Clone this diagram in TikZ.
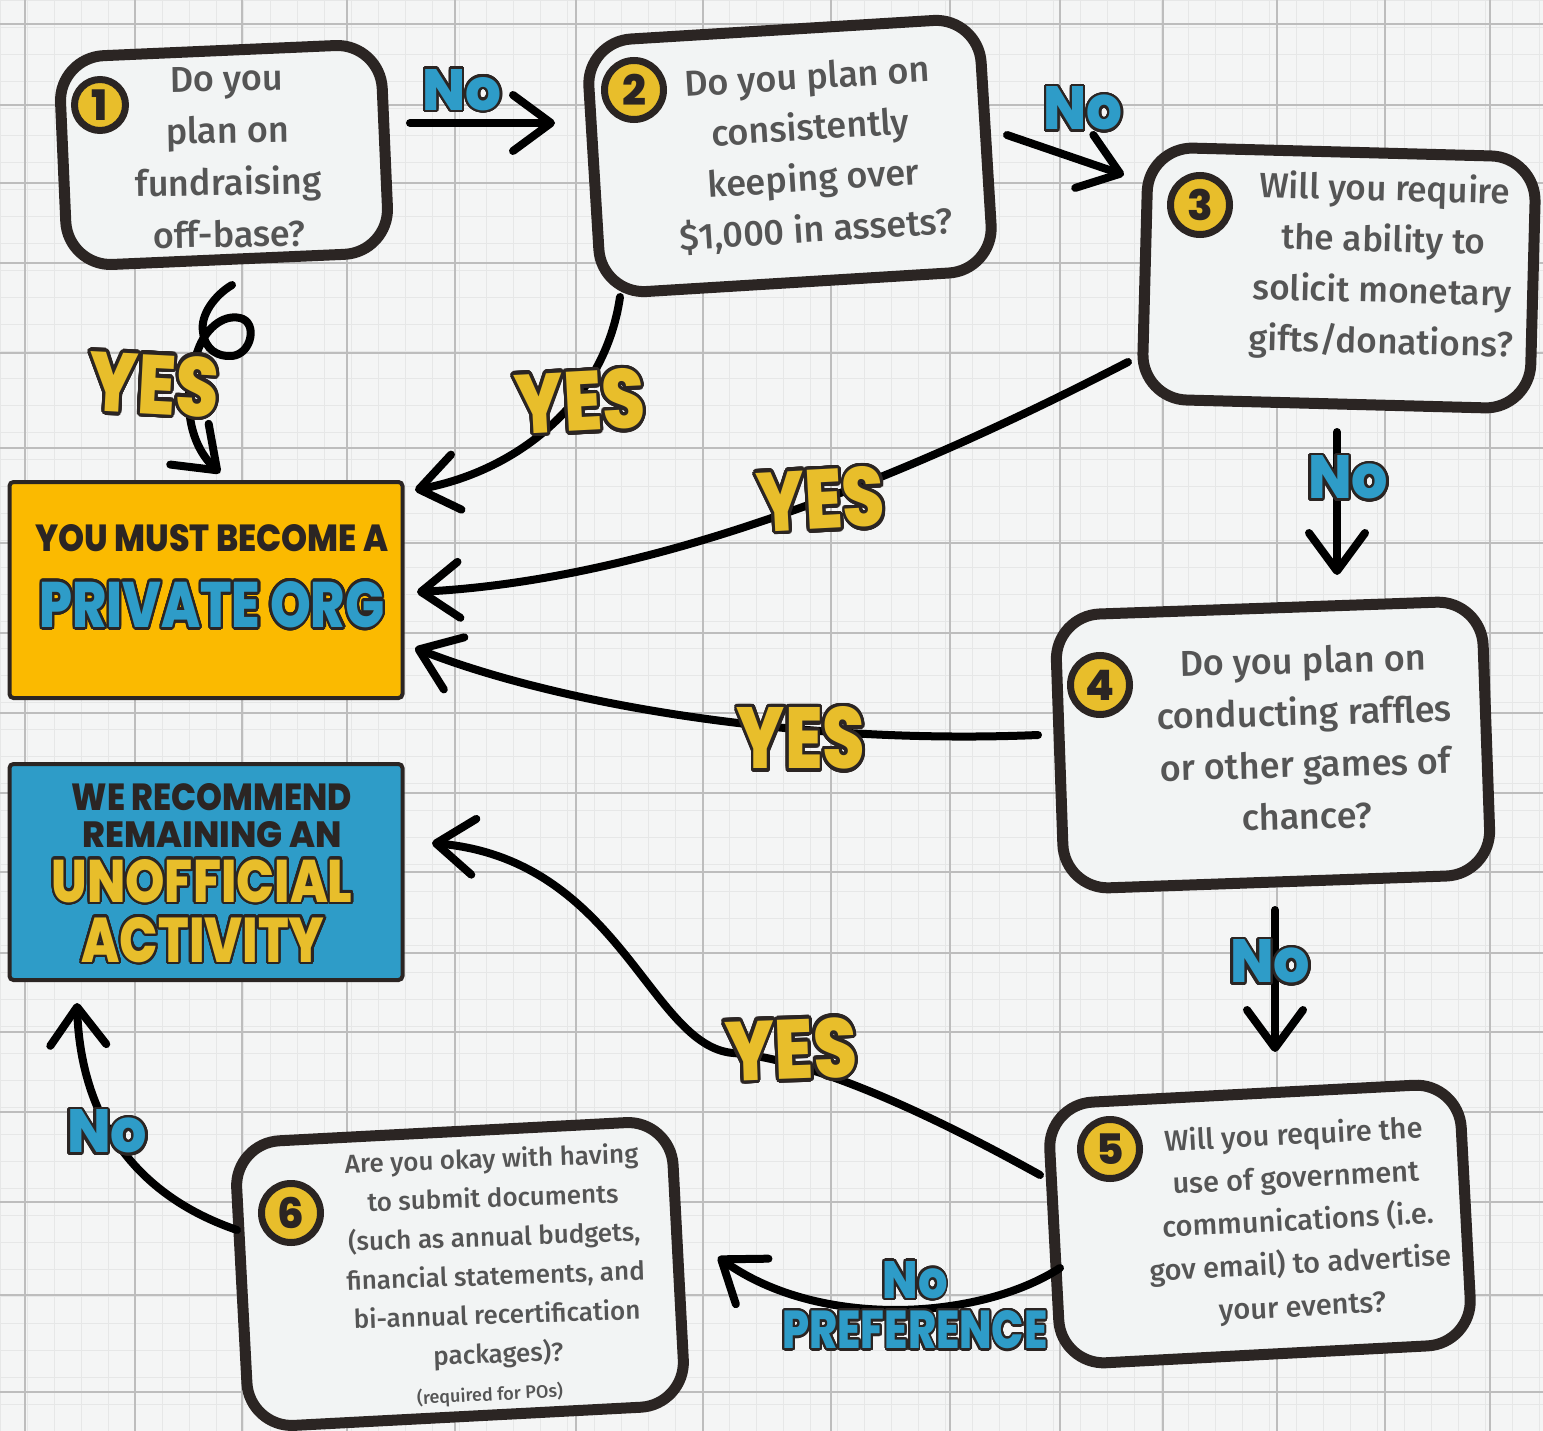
\documentclass[tikz,border=0pt]{standalone}
\usepackage{fontspec}
\usepackage{graphicx}
\usepackage{xcolor}
\usepackage[copies]{contour}
\setmainfont{Fira Sans}[UprightFont={* Medium}]
\newfontfamily\dispfont{Poppins}[UprightFont={* ExtraBold}]
\usetikzlibrary{arrows.meta, calc, positioning}
\definecolor{paper}{HTML}{F4F5F5}
\definecolor{boxfill}{HTML}{F2F4F4}
\definecolor{gridline}{HTML}{BDBDBD}
\definecolor{gridfine}{HTML}{E6E7E7}
\definecolor{ink}{HTML}{2B2523}
\definecolor{txt}{HTML}{555555}
\definecolor{gold}{HTML}{E8BE2B}
\definecolor{orgorange}{HTML}{FBBA00}
\definecolor{skyblue}{HTML}{2E9CC8}
\contourlength{1.7pt}
\contournumber{32}
% outlined display word: width, height, colour, text
\newcommand{\bigword}[4]{\resizebox{#1pt}{#2pt}{\fontsize{40}{40}\dispfont\color{#3}\contour{ink}{#4}}}
% plain dark display word: width, height, text
\newcommand{\flatword}[3]{\resizebox{#1pt}{#2pt}{\fontsize{40}{40}\dispfont\color{ink}#3}}
\tikzset{> = {Straight Barb[length=38pt, width=56pt, round]}}

\begin{document}
\begin{tikzpicture}[x=1pt, y=-1pt,
  qbox/.style = {draw=ink, line width=11pt, fill=boxfill, rounded corners=45pt, inner sep=0pt},
  qtext/.style = {text=txt, align=center, inner sep=0pt},
  outbox/.style = {draw=ink, line width=4pt, rounded corners=4pt, minimum width=393pt, minimum height=216pt},
  numdot/.style = {circle, draw=ink, fill=gold, line width=7pt, minimum size=59pt, inner sep=0pt, text=ink, font=\fontsize{42}{42}\dispfont},
  arr/.style = {->, draw=black, line width=8pt, line cap=round},
  lbl/.style = {inner sep=0pt}]
\useasboundingbox (0,0) rectangle (1543,1431);
\fill[paper] (0,0) rectangle (1543,1431);
\foreach \x in {0,27,...,1543} \draw[gridfine, line width=0.6pt] (\x,0) -- (\x,1431);
\foreach \y in {0,27,...,1431} \draw[gridfine, line width=0.6pt] (0,\y) -- (1543,\y);
\foreach \x in {25,135,242,347,455,576,703,831,950,1060,1163,1277,1385,1490}
  \draw[gridline, line width=1.8pt] (\x,0) -- (\x,1431);
\foreach \y in {24,105,183,263,353,448,543,633,713,793,872,953,1032,1112,1202,1295,1392}
  \draw[gridline, line width=1.8pt] (0,\y) -- (1543,\y);

% question boxes
\node[qbox, minimum width=322pt, minimum height=209pt, rotate=2.5] (b1) at (224,155) {};
\node[qbox, minimum width=393pt, minimum height=253pt, rotate=3.5] (b2) at (790,156) {};
\node[qbox, minimum width=388pt, minimum height=252pt, rotate=-1.5] (b3) at (1339,278) {};
\node[qbox, minimum width=427pt, minimum height=274pt, rotate=2] (b4) at (1273,745) {};
\node[qbox, minimum width=412pt, minimum height=261pt, rotate=3] (b5) at (1260,1224) {};
\node[qbox, minimum width=437pt, minimum height=285pt, rotate=3] (b6) at (460,1274) {};

\node[qtext, font=\fontsize{36}{52}\selectfont, rotate=1] (t1) at (228,157) {Do you\\plan on\\fundraising\\off-base?};
\node[qtext, font=\fontsize{36}{51}\selectfont, rotate=3.5] (t2) at (812,155) {Do you plan on\\consistently\\keeping over\\\$1,000 in assets?};
\node[qtext, font=\fontsize{35}{51}\selectfont, rotate=-1.5] (t3) at (1383,267) {Will you require\\the ability to\\solicit monetary\\gifts/donations?};
\node[qtext, font=\fontsize{36}{52}\selectfont, rotate=1.5] (t4) at (1305,738) {Do you plan on\\conducting raffles\\or other games of\\chance?};
\node[qtext, font=\fontsize{29}{43}\selectfont, rotate=3] (t5) at (1298,1222) {Will you require the\\use of government\\communications (i.e.\\gov email) to advertise\\your events?};
\node[qtext, font=\fontsize{26}{39}\selectfont, rotate=2] (t6) at (495,1258) {Are you okay with having\\to submit documents\\(such as annual budgets,\\financial statements, and\\bi-annual recertification\\packages)?};
\node[qtext, font=\fontsize{18}{18}\selectfont, rotate=3] (t6note) at (490,1395) {(required for POs)};

\node[numdot, minimum size=51pt] (n1) at (100,105) {1};
\node[numdot] (n2) at (634,90) {2};
\node[numdot] (n3) at (1200,205) {3};
\node[numdot] (n4) at (1100,685) {4};
\node[numdot] (n5) at (1110,1149) {5};
\node[numdot] (n6) at (291,1213) {6};

% outcome boxes
\node[outbox, fill=orgorange] (porg) at (206,590) {};
\node[outbox, fill=skyblue] (unoff) at (206,872) {};
\node[lbl] (porgA) at (212,538) {\flatword{353}{27}{YOU MUST BECOME A}};
\node[lbl] (porgB) at (212,606) {\bigword{345}{46}{skyblue}{PRIVATE ORG}};
\node[lbl] (unoffA) at (212,797) {\flatword{280}{27}{WE RECOMMEND}};
\node[lbl] (unoffB) at (212,835) {\flatword{259}{26}{REMAINING AN}};
\node[lbl] (unoffC) at (202,882) {\bigword{301}{43}{gold}{UNOFFICIAL}};
\node[lbl] (unoffD) at (203,941) {\bigword{243}{45}{gold}{ACTIVITY}};

% connectors
\draw[arr] ([shift={(186,-32)}]b1.center) -- ([shift={(-235,-33)}]b2.center);
\draw[arr] ([shift={(217,-21)}]b2.center) -- ([shift={(-215,-103)}]b3.center);
\draw[arr] ([shift={(8,130)}]b1.center) .. controls (215,295) and (200,315) .. (203,332)
  .. controls (205,350) and (218,357) .. (232,356) .. controls (252,354) and (258,322) .. (240,318)
  .. controls (222,314) and (205,330) .. (198,350) .. controls (183,390) and (185,440) .. ([shift={(14,-117)}]porg.center);
\draw[arr] ([shift={(-170,141)}]b2.center) .. controls +(-15,103) and +(105,-20) .. ([shift={(209,-100)}]porg.center);
\draw[arr] ([shift={(-211,84)}]b3.center) .. controls +(-228,118) and +(233,-12) .. ([shift={(211,2)}]porg.center);
\draw[arr] ([shift={(-2,154)}]b3.center) -- ([shift={(64,-170)}]b4.center);
\draw[arr] ([shift={(-235,-10)}]b4.center) .. controls +(-238,10) and +(145,57) .. ([shift={(209,58)}]porg.center);
\draw[arr] ([shift={(2,165)}]b4.center) -- ([shift={(15,-172)}]b5.center);
\draw[arr] ([shift={(-220,-49)}]b5.center) .. controls (950,1125) and (820,1060) .. (733,1053)
  .. controls (650,1046) and (620,860) .. ([shift={(226,-29)}]unoff.center);
\draw[arr] ([shift={(-200,44)}]b5.center) .. controls +(-80,52) and +(102,73) .. ([shift={(258,-17)}]b6.center);
\draw[arr] ([shift={(-223,-44)}]b6.center) .. controls +(-117,-40) and +(3,97) .. ([shift={(-129,131)}]unoff.center);

% answer labels
\node[lbl] (no1) at (462,91) {\bigword{79}{41}{skyblue}{No}};
\node[lbl] (no2) at (1083,110) {\bigword{79}{43}{skyblue}{No}};
\node[lbl, rotate=-3] (yes1) at (154,386) {\bigword{130}{60}{gold}{YES}};
\node[lbl, rotate=3] (yes2) at (580,403) {\bigword{130}{60}{gold}{YES}};
\node[lbl, rotate=3] (yes3) at (821,501) {\bigword{128}{60}{gold}{YES}};
\node[lbl] (no3) at (1348,479) {\bigword{80}{43}{skyblue}{No}};
\node[lbl] (yes4) at (801,740) {\bigword{128}{62}{gold}{YES}};
\node[lbl] (no4) at (1270,963) {\bigword{80}{43}{skyblue}{No}};
\node[lbl, rotate=2] (yes5) at (791,1051) {\bigword{132}{60}{gold}{YES}};
\node[lbl] (nopA) at (915,1281) {\bigword{65}{37}{skyblue}{No}};
\node[lbl] (nopB) at (915,1331) {\bigword{265}{38}{skyblue}{PREFERENCE}};
\node[lbl] (no6) at (107,1133) {\bigword{80}{43}{skyblue}{No}};
\end{tikzpicture}
\end{document}
